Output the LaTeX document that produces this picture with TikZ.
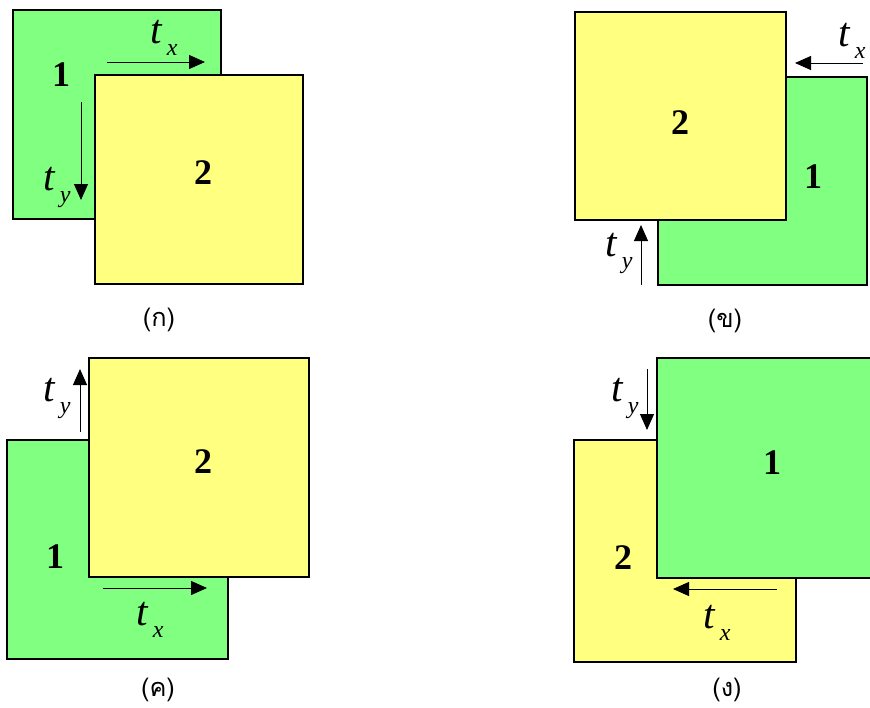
\documentclass[tikz,border=0pt]{standalone}
\usepackage{fontspec}
\setmainfont{Liberation Serif}
\newfontfamily\thaifont[Script=Thai]{Loma}
\usetikzlibrary{positioning, arrows.meta, fit}
\definecolor{pgreen}{RGB}{128,255,128}
\definecolor{pyellow}{RGB}{255,255,128}
\newcommand{\tlab}[1]{\textit{t}\kern3pt\raisebox{-9pt}{\fontsize{18}{18}\selectfont\textit{#1}}}

\begin{document}
\begin{tikzpicture}[x=0.75pt, y=-0.75pt, >={Triangle[length=12pt, width=10.5pt]},
  sq/.style={draw, line width=2.2pt, inner sep=0pt},
  gsq/.style={sq, fill=pgreen},
  ysq/.style={sq, fill=pyellow},
  num/.style={font=\fontsize{27}{27}\selectfont\bfseries, inner sep=0pt},
  tl/.style={font=\fontsize{31}{31}\selectfont, inner sep=0pt},
  capt/.style={font=\thaifont\fontsize{19}{19}\selectfont, inner sep=0pt},
  mv/.style={->, line width=0.75pt}]
\useasboundingbox (0,0) rectangle (870,707);
\clip (0,0) rectangle (870,707);
% (a) top left: 1 under 2
\node[gsq, fit={(13,10) (221,219)}] (ga) {};
\node[ysq, fit={(95,75) (303,284)}] (ya) {};
\node[num] (na1) at (61,75) {1};
\node[num] (na2) at (203,173) {2};
\coordinate (axs) at (107,62); \coordinate (axe) at (205,62);
\coordinate (ays) at (81,102); \coordinate (aye) at (81,200);
\draw[mv] (axs) -- (axe);
\draw[mv] (ays) -- (aye);
\node[tl] (atx) at (164,38) {\tlab{x}};
\node[tl] (aty) at (57,187) {\tlab{y}};
\node[capt] (capa) at (159,320) {(ก)};
% (b) top right: 2 over 1
\node[gsq, fit={(658,77) (867,285)}] (gb) {};
\node[ysq, fit={(575,12) (786,220)}] (yb) {};
\node[num] (nb2) at (680,123) {2};
\node[num] (nb1) at (813,177) {1};
\coordinate (bxs) at (863,63); \coordinate (bxe) at (795,63);
\coordinate (bys) at (641,285); \coordinate (bye) at (641,225);
\draw[mv] (bxs) -- (bxe);
\draw[mv] (bys) -- (bye);
\node[tl] (btx) at (852,41) {\tlab{x}};
\node[tl] (bty) at (619,253) {\tlab{y}};
\node[capt] (capb) at (725,321) {(ข)};
% (c) bottom left: 2 over 1
\node[gsq, fit={(7,440) (228,659)}] (gc) {};
\node[ysq, fit={(89,358) (309,577)}] (yc) {};
\node[num] (nc1) at (55,557) {1};
\node[num] (nc2) at (203,462) {2};
\coordinate (cys) at (80,432); \coordinate (cye) at (80,369);
\coordinate (cxs) at (103,588); \coordinate (cxe) at (207,588);
\draw[mv] (cys) -- (cye);
\draw[mv] (cxs) -- (cxe);
\node[tl] (cty) at (57,398) {\tlab{y}};
\node[tl] (ctx) at (150,620) {\tlab{x}};
\node[capt] (capc) at (158,690) {(ค)};
% (d) bottom right: 1 over 2, cut at the edge
\node[ysq, fit={(574,440) (796,662)}] (yd) {};
\node[gsq, fit={(657,358) (885,578)}] (gd) {};
\node[num] (nd1) at (772,463) {1};
\node[num] (nd2) at (623,558) {2};
\coordinate (dys) at (647,369); \coordinate (dye) at (647,430);
\coordinate (dxs) at (777,589); \coordinate (dxe) at (673,589);
\draw[mv] (dys) -- (dye);
\draw[mv] (dxs) -- (dxe);
\node[tl] (dty) at (625,398) {\tlab{y}};
\node[tl] (dtx) at (717,623) {\tlab{x}};
\node[capt] (capd) at (727,690) {(ง)};
\end{tikzpicture}
\end{document}
